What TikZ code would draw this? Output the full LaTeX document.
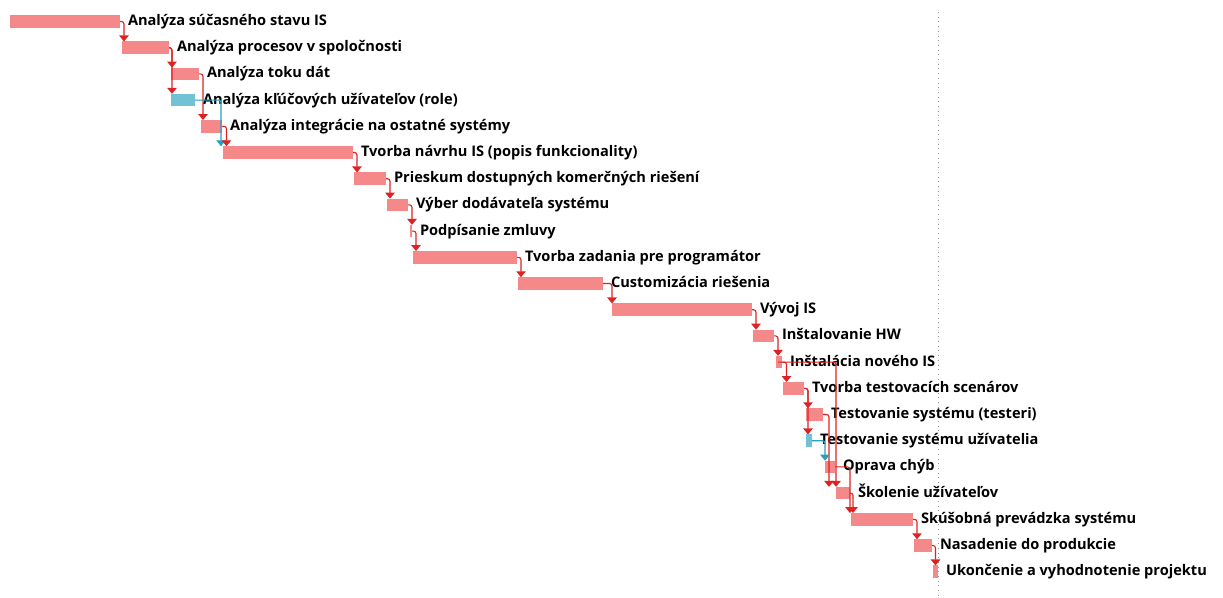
\documentclass[tikz,border=0pt]{standalone}
\usepackage{fontspec}
\setmainfont{Open Sans}
\usetikzlibrary{arrows.meta}

\definecolor{barred}{RGB}{245,137,137}
\definecolor{barcyan}{RGB}{112,194,212}
\definecolor{linkred}{RGB}{222,34,34}
\definecolor{linkcyan}{RGB}{38,160,190}
\definecolor{todaygray}{RGB}{150,150,150}

\tikzset{
  taskbar/.style={fill=barred, draw=none, inner sep=0, outer sep=0,
    minimum height=12.5, anchor=west},
  slackbar/.style={taskbar, fill=barcyan},
  lbl/.style={anchor=base west, inner sep=0, outer sep=0,
    font=\fontsize{14.6}{17}\selectfont\bfseries, text=black},
  link/.style={draw=linkred, line width=1.1, rounded corners=2.5,
    -{Triangle[width=9.5, length=6]}},
  slacklink/.style={link, draw=linkcyan},
  todayline/.style={draw=todaygray, line width=1, dash pattern=on 1 off 3.7},
}

% task bar: name, style, start x, end x, row number
\newcommand\gantttask[5]{%
  \node[#2, minimum width={#4-#3}] (#1) at (#3, {21.5+(#5-1)*26.2}) {};}
% task name right of its bar
\newcommand\ganttlabel[2]{%
  \node[lbl] (#1l) at ([xshift=8, yshift=-4]#1.east) {#2};}

\begin{document}
\begin{tikzpicture}[x=1pt, y=-1pt]
\useasboundingbox (0,0) rectangle (1223,597);

% status date
\coordinate (today top) at (938.5,12);
\coordinate (today bottom) at (938.5,597);
\draw[todayline] (today top) -- (today bottom);

% bars
\gantttask{r1}{taskbar}{10}{120}{1}
\gantttask{r2}{taskbar}{122}{169}{2}
\gantttask{r3}{taskbar}{171}{199}{3}
\gantttask{r4}{slackbar}{171}{195}{4}
\gantttask{r5}{taskbar}{201}{222}{5}
\gantttask{r6}{taskbar}{223}{353}{6}
\gantttask{r7}{taskbar}{354}{386}{7}
\gantttask{r8}{taskbar}{387}{408}{8}
\gantttask{r9}{taskbar}{410}{412}{9}
\gantttask{r10}{taskbar}{413}{517}{10}
\gantttask{r11}{taskbar}{518}{603}{11}
\gantttask{r12}{taskbar}{612}{752}{12}
\gantttask{r13}{taskbar}{753}{774}{13}
\gantttask{r14}{taskbar}{776}{782}{14}
\gantttask{r15}{taskbar}{783}{804}{15}
\gantttask{r16}{taskbar}{806}{823}{16}
\gantttask{r17}{slackbar}{806}{812}{17}
\gantttask{r18}{taskbar}{825}{835}{18}
\gantttask{r19}{taskbar}{836}{850}{19}
\gantttask{r20}{taskbar}{851}{913}{20}
\gantttask{r21}{taskbar}{914}{932}{21}
\gantttask{r22}{taskbar}{933}{938}{22}

% task names
\ganttlabel{r1}{Analýza súčasného stavu IS}
\ganttlabel{r2}{Analýza procesov v spoločnosti}
\ganttlabel{r3}{Analýza toku dát}
\ganttlabel{r4}{Analýza kľúčových užívateľov (role)}
\ganttlabel{r5}{Analýza integrácie na ostatné systémy}
\ganttlabel{r6}{Tvorba návrhu IS (popis funkcionality)}
\ganttlabel{r7}{Prieskum dostupných komerčných riešení}
\ganttlabel{r8}{Výber dodávateľa systému}
\ganttlabel{r9}{Podpísanie zmluvy}
\ganttlabel{r10}{Tvorba zadania pre programátor}
\ganttlabel{r11}{Customizácia riešenia}
\ganttlabel{r12}{Vývoj IS}
\ganttlabel{r13}{Inštalovanie HW}
\ganttlabel{r14}{Inštalácia nového IS}
\ganttlabel{r15}{Tvorba testovacích scenárov}
\ganttlabel{r16}{Testovanie systému (testeri)}
\ganttlabel{r17}{Testovanie systému užívatelia}
\ganttlabel{r18}{Oprava chýb}
\ganttlabel{r19}{Školenie užívateľov}
\ganttlabel{r20}{Skúšobná prevádzka systému}
\ganttlabel{r21}{Nasadenie do produkcie}
\ganttlabel{r22}{Ukončenie a vyhodnotenie projektu}

% finish-to-start links
\draw[link] (r1.east) -| ([xshift=4]r1.east |- r2.north);
\draw[link] (r2.east) -| ([xshift=3]r2.east |- r3.north);
\draw[link] (r2.east) -| ([xshift=3]r2.east |- r4.north);
\draw[link] (r3.east) -| ([xshift=4]r3.east |- r5.north);
\draw[slacklink] (r4.east) -| ([xshift=-2]r6.west |- r6.north);
\draw[link] (r5.east) -| ([xshift=4.5]r5.east |- r6.north);
\draw[link] (r6.east) -| ([xshift=4]r6.east |- r7.north);
\draw[link] (r7.east) -| ([xshift=4]r7.east |- r8.north);
\draw[link] (r8.east) -| ([xshift=4]r8.east |- r9.north);
\draw[link] (r9.east) -| ([xshift=4]r9.east |- r10.north);
\draw[link] (r10.east) -| ([xshift=4]r10.east |- r11.north);
\draw[link] (r11.east) -| ([xshift=0]r12.west |- r12.north);
\draw[link] (r12.east) -| ([xshift=4]r12.east |- r13.north);
\draw[link] (r13.east) -| ([xshift=4]r13.east |- r14.north);
\draw[link] (r14.east) -| ([xshift=4.5]r14.east |- r15.north);
\draw[link] ([xshift=-4]r14.east) -| ([xshift=0]r19.west |- r19.north);
\draw[link] (r15.east) -| ([xshift=4]r15.east |- r16.north);
\draw[link] (r15.east) -| ([xshift=4]r15.east |- r17.north);
\draw[link] (r16.east) -| ([xshift=6]r16.east |- r19.north);
\draw[slacklink] (r17.east) -| ([xshift=0]r18.west |- r18.north);
\draw[link] (r18.east) -| ([xshift=-1]r20.west |- r20.north);
\draw[link] (r19.east) -| ([xshift=3]r19.east |- r20.north);
\draw[link] (r20.east) -| ([xshift=4]r20.east |- r21.north);
\draw[link] (r21.east) -| ([xshift=3.5]r21.east |- r22.north);
\end{tikzpicture}
\end{document}
